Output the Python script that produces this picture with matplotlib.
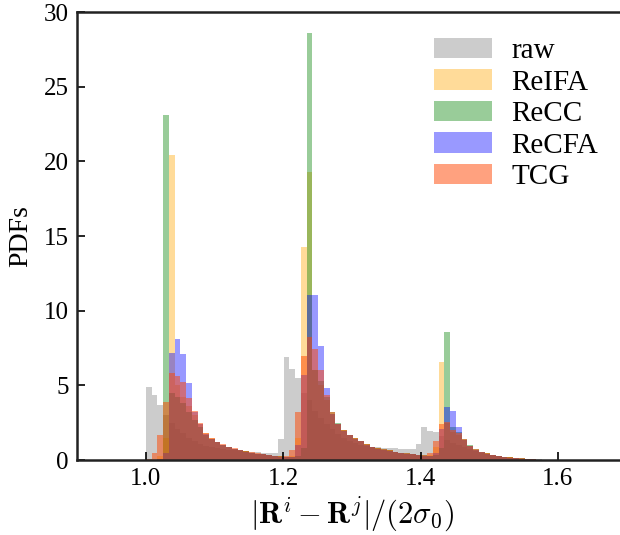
import numpy as np
import matplotlib
matplotlib.use("Agg")
import matplotlib.pyplot as plt

plt.rcParams['font.family'] = ['Liberation Serif', 'DejaVu Serif']
plt.rcParams['mathtext.fontset'] = 'cm'

bin_start = 1.0
bin_width = 0.00836

raw = [4.87, 4.35, 3.68, 3.0, 2.5, 2.1, 1.8, 1.5, 1.3, 1.1,
       0.95, 0.85, 0.8, 0.75, 0.7, 0.66, 0.62, 0.58, 0.55, 0.52,
       0.49, 0.46, 0.5, 1.4, 6.92, 6.1, 5.5, 4.5, 4.0, 3.3,
       2.8, 2.4, 2.05, 1.75, 1.5, 1.3, 1.15, 1.0, 0.92, 0.88,
       0.85, 0.82, 0.8, 0.78, 0.77, 0.75, 0.72, 1.05, 2.2, 1.94,
       1.9, 1.6, 1.35, 1.15, 1.0, 0.85, 0.72, 0.6, 0.5, 0.42,
       0.35, 0.29, 0.24, 0.2, 0.16, 0.13, 0.1, 0.08, 0.06, 0.04,
       0.03, 0.02]

reifa = [0.0, 0.0, 0.3, 1.5, 20.4, 5.0, 4.2, 3.6, 3.0, 2.4,
         1.8, 1.45, 1.2, 1.0, 0.85, 0.75, 0.65, 0.58, 0.5, 0.44,
         0.38, 0.33, 0.28, 0.25, 0.2, 0.3, 1.5, 14.29, 19.27, 6.0,
         5.0, 4.0, 3.1, 2.45, 2.0, 1.7, 1.45, 1.3, 1.05, 0.9,
         0.78, 0.7, 0.65, 0.55, 0.48, 0.43, 0.4, 0.35, 0.3, 0.35,
         0.9, 6.59, 2.5, 1.9, 1.7, 1.35, 0.95, 0.7, 0.55, 0.45,
         0.33, 0.27, 0.22, 0.18, 0.13, 0.1, 0.07, 0.05, 0.03, 0.02,
         0.01, 0.0]

recc = [0.0, 0.0, 0.0, 23.1, 4.5, 4.2, 3.8, 3.2, 2.7, 2.2,
        1.7, 1.4, 1.2, 1.0, 0.88, 0.76, 0.66, 0.58, 0.5, 0.44,
        0.39, 0.34, 0.3, 0.26, 0.22, 0.2, 0.3, 0.8, 28.6, 6.0,
        5.3, 4.2, 3.2, 2.5, 2.0, 1.7, 1.45, 1.3, 1.05, 0.9,
        0.8, 0.72, 0.66, 0.56, 0.5, 0.45, 0.4, 0.36, 0.32, 0.3,
        0.35, 0.8, 8.55, 2.2, 1.9, 1.4, 0.98, 0.72, 0.56, 0.45,
        0.34, 0.28, 0.23, 0.19, 0.14, 0.11, 0.08, 0.06, 0.04, 0.02,
        0.01, 0.0]

recfa = [0.0, 0.0, 0.1, 0.5, 7.19, 8.08, 7.1, 5.18, 3.2, 2.4,
         1.75, 1.42, 1.2, 1.0, 0.87, 0.75, 0.65, 0.57, 0.5, 0.43,
         0.38, 0.32, 0.27, 0.23, 0.2, 0.2, 1.0, 5.7, 11.05, 11.05,
         7.66, 4.8, 3.1, 2.4, 1.95, 1.65, 1.42, 1.25, 1.02, 0.87,
         0.76, 0.7, 0.64, 0.54, 0.47, 0.43, 0.38, 0.34, 0.3, 0.28,
         0.5, 2.1, 3.53, 3.28, 2.19, 1.35, 0.93, 0.68, 0.54, 0.43,
         0.32, 0.26, 0.21, 0.17, 0.13, 0.1, 0.07, 0.05, 0.03, 0.02,
         0.01, 0.0]

tcg = [0.1, 0.45, 1.67, 3.9, 5.8, 5.63, 5.25, 4.13, 3.3, 2.46,
       1.79, 1.45, 1.23, 1.05, 0.89, 0.78, 0.67, 0.6, 0.51, 0.45,
       0.4, 0.33, 0.27, 0.25, 0.3, 0.67, 3.24, 7.0, 8.26, 7.41,
       6.03, 4.35, 3.19, 2.45, 2.0, 1.71, 1.45, 1.3, 1.05, 0.89,
       0.78, 0.71, 0.67, 0.55, 0.49, 0.45, 0.4, 0.36, 0.33, 0.45,
       1.27, 2.41, 2.57, 2.0, 1.8, 1.38, 0.96, 0.71, 0.56, 0.45,
       0.33, 0.27, 0.22, 0.18, 0.13, 0.11, 0.08, 0.05, 0.03, 0.02,
       0.01, 0.0]

series_names = ['raw', 'ReIFA', 'ReCC', 'ReCFA', 'TCG']
series_values = [raw, reifa, recc, recfa, tcg]
series_colors = ['gray', 'orange', 'green', 'blue', 'orangered']
series_alpha = [0.4, 0.4, 0.4, 0.4, 0.5]

fig = plt.figure(figsize=(6.2, 5.35), dpi=100)
ax = fig.add_axes([0.1245, 0.140, 0.886, 0.8375])

n = len(raw)
edges = bin_start + bin_width * np.arange(n + 1)
centers = 0.5 * (edges[:-1] + edges[1:])

for name, vals, col, a in zip(series_names, series_values, series_colors, series_alpha):
    ax.hist(centers, bins=edges, weights=vals, histtype='stepfilled',
            color=col, alpha=a, linewidth=0, label=name)

ax.set_xlim(0.9, 1.7)
ax.set_ylim(0, 30)
ax.set_xticks([1.0, 1.2, 1.4, 1.6])
ax.set_yticks([0, 5, 10, 15, 20, 25, 30])
ax.tick_params(direction='in', length=6, width=1.2, labelsize=18, pad=6)
for s in ax.spines.values():
    s.set_linewidth(1.8)
    s.set_color('#222222')
ax.spines['right'].set_visible(False)

ax.set_xlabel(r'$|\mathbf{R}^i-\mathbf{R}^j|/(2\sigma_0)$', fontsize=22, labelpad=3)
ax.set_ylabel('PDFs', fontsize=20, labelpad=8)

ax.legend(loc='upper left', bbox_to_anchor=(0.628, 0.968), frameon=False, fontsize=21,
          handlelength=2.0, handleheight=0.7, labelspacing=0.17, handletextpad=0.65,
          borderaxespad=0.0)

fig.savefig('out.png', dpi=100)
